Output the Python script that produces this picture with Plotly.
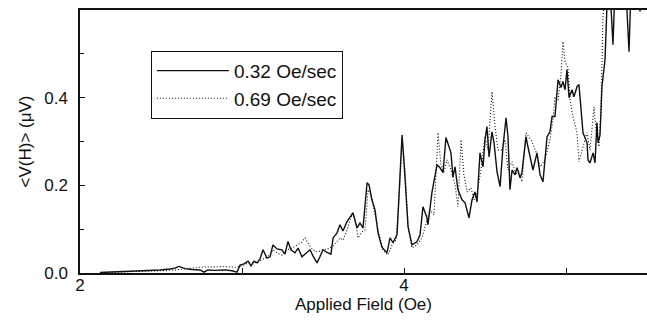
import plotly.graph_objects as go

# Solid series: 0.32 Oe/sec
field_slow = [2.123, 2.185, 2.247, 2.309, 2.370, 2.432, 2.494, 2.556, 2.586, 2.611, 2.648, 2.691, 2.741, 2.765, 2.790, 2.833, 2.895, 2.938, 2.969, 2.988,
              3.012, 3.037, 3.056, 3.074, 3.093, 3.111, 3.130, 3.154, 3.173, 3.191, 3.216, 3.247, 3.265, 3.284, 3.302, 3.327, 3.346, 3.370, 3.395, 3.420,
              3.438, 3.463, 3.481, 3.500, 3.519, 3.531, 3.549, 3.562, 3.586, 3.605, 3.623, 3.648, 3.667, 3.685, 3.710, 3.728, 3.747, 3.772, 3.784, 3.802,
              3.821, 3.840, 3.864, 3.895, 3.914, 3.932, 3.957, 3.969, 3.988, 4.006, 4.025, 4.049, 4.080, 4.099, 4.117, 4.142, 4.148, 4.173, 4.191, 4.204,
              4.222, 4.241, 4.259, 4.278, 4.290, 4.302, 4.315, 4.333, 4.358, 4.377, 4.401, 4.420, 4.438, 4.451, 4.469, 4.488, 4.500, 4.512, 4.525, 4.543,
              4.556, 4.574, 4.593, 4.611, 4.630, 4.642, 4.654, 4.667, 4.685, 4.698, 4.716, 4.728, 4.753, 4.765, 4.796, 4.821, 4.840, 4.858, 4.870, 4.883,
              4.901, 4.914, 4.932, 4.944, 4.951, 4.969, 4.981, 4.994, 5.006, 5.019, 5.037, 5.049, 5.068, 5.080, 5.099, 5.105, 5.130, 5.136, 5.148, 5.167,
              5.179, 5.191, 5.198, 5.210, 5.222, 5.241, 5.253, 5.272, 5.290, 5.302, 5.333, 5.370, 5.389, 5.401, 5.432, 5.457, 5.475, 5.500]
v_slow = [0.001, 0.002, 0.002, 0.003, 0.005, 0.005, 0.007, 0.009, 0.011, 0.015, 0.010, 0.008, 0.007, 0.002, 0.007, 0.006, 0.007, 0.005, 0.002, 0.018,
          0.021, 0.027, 0.016, 0.027, 0.023, 0.032, 0.053, 0.034, 0.037, 0.064, 0.055, 0.053, 0.043, 0.072, 0.053, 0.046, 0.057, 0.037, 0.046, 0.053,
          0.039, 0.023, 0.037, 0.053, 0.048, 0.046, 0.043, 0.080, 0.091, 0.110, 0.096, 0.117, 0.126, 0.137, 0.103, 0.114, 0.103, 0.206, 0.201, 0.167,
          0.144, 0.091, 0.059, 0.046, 0.080, 0.069, 0.087, 0.190, 0.315, 0.219, 0.105, 0.064, 0.071, 0.087, 0.151, 0.126, 0.110, 0.185, 0.217, 0.247,
          0.240, 0.229, 0.309, 0.288, 0.274, 0.219, 0.242, 0.190, 0.167, 0.160, 0.126, 0.167, 0.185, 0.162, 0.274, 0.242, 0.304, 0.334, 0.265, 0.322,
          0.297, 0.231, 0.197, 0.288, 0.354, 0.311, 0.190, 0.235, 0.224, 0.240, 0.217, 0.229, 0.311, 0.288, 0.235, 0.274, 0.224, 0.208, 0.258, 0.311,
          0.322, 0.357, 0.357, 0.418, 0.441, 0.423, 0.437, 0.418, 0.464, 0.400, 0.418, 0.402, 0.425, 0.430, 0.334, 0.320, 0.297, 0.258, 0.251, 0.274,
          0.251, 0.343, 0.297, 0.315, 0.425, 0.487, 0.613, 0.647, 0.521, 0.647, 0.660, 0.647, 0.505, 0.647, 0.650, 0.597, 0.647, 0.650]

# Dotted series: 0.69 Oe/sec
field_fast = [2.123, 2.247, 2.370, 2.494, 2.586, 2.648, 2.710, 2.772, 2.833, 2.895, 2.957, 3.000, 3.037, 3.068, 3.099, 3.123, 3.148, 3.173, 3.191, 3.216,
              3.247, 3.278, 3.309, 3.340, 3.364, 3.389, 3.414, 3.438, 3.469, 3.500, 3.531, 3.562, 3.586, 3.605, 3.623, 3.648, 3.667, 3.685, 3.704, 3.716,
              3.741, 3.759, 3.778, 3.796, 3.815, 3.840, 3.870, 3.901, 3.926, 3.951, 3.969, 3.988, 4.006, 4.025, 4.049, 4.080, 4.111, 4.136, 4.160, 4.185,
              4.210, 4.228, 4.247, 4.265, 4.290, 4.315, 4.333, 4.352, 4.370, 4.389, 4.414, 4.432, 4.451, 4.475, 4.500, 4.519, 4.531, 4.543, 4.562, 4.580,
              4.605, 4.623, 4.642, 4.667, 4.691, 4.704, 4.728, 4.753, 4.790, 4.821, 4.840, 4.870, 4.901, 4.920, 4.932, 4.951, 4.969, 4.981, 4.994, 5.012,
              5.025, 5.043, 5.068, 5.080, 5.105, 5.130, 5.148, 5.173, 5.185, 5.204, 5.216, 5.228, 5.241, 5.272, 5.350, 5.420, 5.500]
v_fast = [0.001, 0.002, 0.003, 0.005, 0.007, 0.009, 0.011, 0.014, 0.014, 0.015, 0.013, 0.016, 0.023, 0.023, 0.025, 0.030, 0.034, 0.041, 0.053, 0.046,
          0.041, 0.053, 0.057, 0.064, 0.069, 0.080, 0.064, 0.053, 0.048, 0.053, 0.055, 0.062, 0.071, 0.080, 0.075, 0.098, 0.121, 0.139, 0.110, 0.080,
          0.094, 0.098, 0.190, 0.178, 0.144, 0.098, 0.053, 0.041, 0.064, 0.075, 0.167, 0.309, 0.236, 0.110, 0.057, 0.064, 0.080, 0.110, 0.144, 0.133,
          0.320, 0.247, 0.231, 0.258, 0.235, 0.201, 0.151, 0.304, 0.224, 0.185, 0.194, 0.167, 0.183, 0.235, 0.311, 0.281, 0.350, 0.414, 0.334, 0.281,
          0.281, 0.304, 0.235, 0.254, 0.224, 0.235, 0.208, 0.320, 0.300, 0.270, 0.242, 0.258, 0.304, 0.350, 0.402, 0.395, 0.453, 0.528, 0.482, 0.469,
          0.395, 0.357, 0.320, 0.254, 0.288, 0.320, 0.281, 0.379, 0.327, 0.288, 0.373, 0.578, 0.650, 0.650, 0.650, 0.650, 0.650]

x_tick_vals = [2, 3, 4, 5]
x_tick_text = ["2", "", "4", ""]
y_tick_vals = [0.0, 0.2, 0.4]
y_tick_text = ["0.0", "0.2", "0.4"]
y_minor_vals = [0.1, 0.3, 0.5]

FONT = "Liberation Sans, Arial, sans-serif"
INK = "#111111"

fig = go.Figure()
fig.add_trace(go.Scatter(x=field_slow, y=v_slow, mode="lines", name="0.32 Oe/sec",
                         line=dict(color=INK, width=1.4)))
fig.add_trace(go.Scatter(x=field_fast, y=v_fast, mode="lines", name="0.69 Oe/sec",
                         line=dict(color=INK, width=1.1, dash="1px,2px")))

fig.update_layout(
    width=647, height=320,
    margin=dict(l=80, r=0, t=10, b=47, autoexpand=False),
    paper_bgcolor="white", plot_bgcolor="white",
    font=dict(family=FONT, color=INK, size=17),
    showlegend=True,
    legend=dict(x=0.125, y=0.845, xanchor="left", yanchor="top",
                bordercolor=INK, borderwidth=1, bgcolor="white",
                font=dict(size=19, family=FONT, color=INK),
                tracegroupgap=0, itemwidth=72),
    xaxis=dict(range=[2, 5.5], tickvals=x_tick_vals, ticktext=x_tick_text,
               ticks="inside", ticklen=5, tickwidth=1, tickcolor=INK,
               showline=True, linecolor=INK, linewidth=1.5, mirror=True,
               showgrid=False, zeroline=False, automargin=False,
               tickfont=dict(size=17), ticklabelstandoff=-4,
               title=dict(text="Applied Field (Oe)", font=dict(size=17), standoff=2)),
    yaxis=dict(range=[0, 0.6], tickvals=y_tick_vals, ticktext=y_tick_text,
               ticks="inside", ticklen=5, tickwidth=1, tickcolor=INK,
               minor=dict(tickvals=y_minor_vals, ticks="inside", ticklen=4, tickcolor=INK),
               showline=True, linecolor=INK, linewidth=1.5,
               showgrid=False, zeroline=False, automargin=False,
               tickfont=dict(size=17), ticklabelstandoff=7,
               title=dict(text="<V(H)> (μV)", font=dict(size=17), standoff=8)),
)

fig.write_html("out.html", config={"displayModeBar": False},
               post_script="document.body.style.margin='0';")
